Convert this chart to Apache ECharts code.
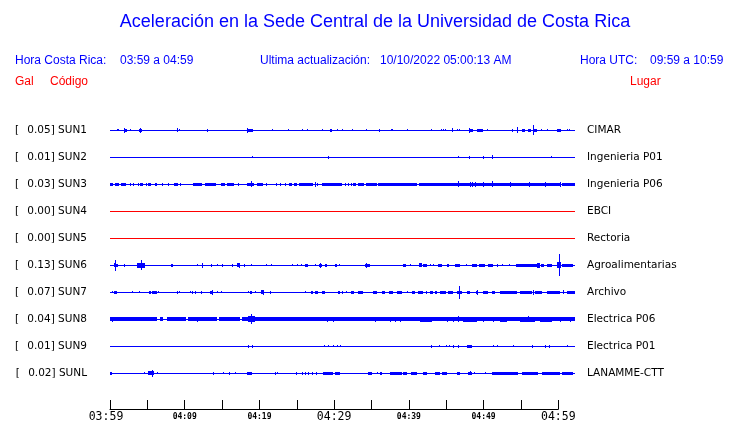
<!DOCTYPE html>
<html><head><meta charset="utf-8">
<script src="https://cdn.jsdelivr.net/npm/echarts@6/dist/echarts.min.js"></script>
<style>html,body{margin:0;padding:0;background:#fff}#c{width:740px;height:423px}</style>
</head><body><div id="c"></div>
<script>
// ---- DATA ----
const codes = ['SUN1','SUN2','SUN3','SUN4','SUN5','SUN6','SUN7','SUN8','SUN9','SUNL'];
const places = ['CIMAR','Ingenieria P01','Ingenieria P06','EBCI','Rectoria','Agroalimentarias','Archivo','Electrica P06','Electrica P01','LANAMME-CTT'];
const peakGal = [0.05,0.01,0.03,0.00,0.00,0.13,0.07,0.04,0.01,0.02];
const timeLabels = ['03:59','04:09','04:19','04:29','04:39','04:49','04:59'];
const axisStartMin = 0, axisEndMin = 60;     // minutes after 03:59 shown on the time axis
const traceStartMin = 0, traceEndMin = 62.24; // minutes covered by the traces
// events: [startMinute, endMinute, halfAmplitude]
const SUN1 = [[0.93,1.24,0.3],[1.87,2.28,0.5],[1.87,1.87,0.75],[2.7,2.7,0.3],[3.84,4.25,0.4],[4.01,4.01,0.8],[8.97,8.97,0.65],[9.23,9.23,0.25],[12.97,12.97,0.4],[18.36,19.19,0.5],[18.36,18.36,0.9],[21.68,21.68,0.35],[23.86,23.86,0.35],[25.73,25.73,0.35],[26.35,26.35,0.2],[28.42,28.42,0.35],[29.46,29.67,0.5],[30.39,30.39,0.25],[31.02,31.02,0.35],[32.36,32.36,0.2],[34.23,34.23,0.35],[35.99,35.99,0.45],[37.65,37.65,0.3],[37.76,37.76,0.3],[39.73,39.73,0.35],[42.94,42.94,0.35],[44.29,44.29,0.35],[44.6,44.6,0.35],[44.81,44.81,0.35],[45.74,45.74,0.65],[46.47,46.47,0.2],[46.68,46.68,0.2],[48.03,48.55,0.5],[48.03,48.03,0.9],[49.17,49.89,0.45],[50.41,50.41,0.35],[53.84,53.94,0.4],[54.46,54.46,1.1],[55.18,55.5,0.5],[55.91,56.33,0.5],[56.64,56.64,1.85],[56.74,57.16,0.55],[57.67,57.67,0.3],[58.5,58.5,0.2],[59.85,60.37,0.5],[61.2,61.2,0.3],[61.41,61.41,0.2]];
const SUN2 = [[18.98,18.98,0.3],[29.15,29.15,0.4],[46.57,46.57,0.3],[48.03,48.23,0.5],[49.89,49.89,0.4],[51.14,51.14,0.6],[59.02,59.02,0.3]];
const SUN3 = [[0,0.41,0.55],[0.67,1.19,0.55],[1.45,2.13,0.55],[2.7,2.7,0.4],[3.11,3.11,0.4],[3.73,3.73,0.45],[4.05,4.41,0.55],[4.82,4.82,0.4],[5.08,5.5,0.55],[6.02,6.28,0.55],[6.95,6.95,0.4],[7.78,7.78,0.4],[8.56,9.13,0.55],[9.39,9.39,0.4],[11.1,11.1,0.4],[11.25,12.34,0.55],[12.71,14.21,0.55],[14.83,15.4,0.55],[15.66,16.6,0.55],[17.12,17.12,0.4],[18.36,19.29,0.55],[18.88,18.88,1.0],[19.71,20.49,0.55],[20.85,20.85,0.4],[22.2,22.2,0.4],[22.77,22.77,0.4],[23.44,23.44,0.45],[23.96,24.38,0.55],[24.64,25.0,0.55],[25.31,27.18,0.55],[27.44,27.44,0.9],[27.7,27.85,0.55],[28.37,31.07,0.55],[31.43,31.43,0.45],[31.85,31.85,0.45],[32.26,32.26,0.45],[32.52,32.93,0.55],[33.19,34.02,0.55],[34.28,35.73,0.55],[35.89,41.08,0.55],[41.39,60.22,0.55],[60.47,62.24,0.55],[46.57,46.57,1.0],[48.18,48.18,0.8],[48.44,48.44,0.8],[48.86,48.86,0.8],[49.89,49.89,0.8],[51.14,51.14,1.0],[53.52,53.52,0.8],[56.12,56.12,0.8],[58.19,58.19,0.8],[60.22,60.22,0.8]];
const SUN4 = [];
const SUN5 = [];
const SUN6 = [[0.52,0.83,0.7],[0.67,0.67,2.0],[0.83,1.09,0.55],[1.87,1.87,0.4],[3.63,4.67,0.8],[4.1,4.1,1.85],[8.19,8.4,0.5],[11.62,11.62,0.35],[12.34,12.34,0.75],[13.48,13.48,0.5],[14.31,14.31,0.35],[14.99,14.99,0.5],[16.29,16.29,0.45],[17.01,17.43,0.6],[17.22,17.22,0.8],[17.95,17.95,0.5],[18.88,18.88,0.35],[20.85,20.85,0.3],[21.58,21.58,0.2],[24.38,24.38,0.35],[25.0,25.0,0.35],[25.52,25.52,0.35],[26.14,26.55,0.5],[27.44,27.44,0.35],[28.01,28.42,0.55],[28.11,28.11,0.8],[28.79,29.04,0.45],[30.08,30.39,0.45],[30.6,30.6,0.3],[34.13,34.75,0.55],[34.23,34.23,0.75],[39.21,39.62,0.5],[40.14,40.14,0.3],[41.39,41.8,0.6],[41.91,42.43,0.45],[42.84,42.84,0.35],[43.26,43.26,0.35],[43.88,44.4,0.45],[45.12,45.33,0.45],[46.16,46.83,0.5],[47.61,47.61,0.35],[48.44,49.12,0.45],[49.38,50.21,0.55],[50.62,51.24,0.45],[51.76,51.97,0.45],[52.49,52.49,0.3],[53.42,53.42,0.3],[54.35,57.16,0.55],[57.16,57.57,0.8],[57.67,58.09,0.5],[58.5,59.13,0.45],[59.85,60.37,1.0],[60.06,60.06,4.0],[60.47,61.93,0.5]];
const SUN7 = [[0.26,0.26,0.35],[0.52,0.93,0.55],[2.9,2.9,0.3],[3.89,3.89,0.35],[5.19,5.5,0.45],[5.6,6.28,0.5],[6.43,6.43,0.35],[8.92,8.92,0.4],[9.23,9.23,0.25],[10.68,10.68,0.3],[11.0,11.1,0.45],[11.41,11.41,0.45],[12.14,12.14,0.45],[13.38,13.8,0.45],[13.69,13.69,0.75],[14.31,14.31,0.35],[14.83,14.83,0.25],[18.46,18.46,0.35],[18.78,18.98,0.45],[19.4,19.4,0.35],[20.23,20.64,0.6],[20.43,20.43,0.8],[21.37,21.37,0.45],[26.14,26.14,0.3],[26.87,27.18,0.45],[27.44,27.85,0.45],[28.37,28.79,0.5],[30.5,30.81,0.5],[31.02,31.22,0.4],[31.53,31.53,0.35],[32.26,32.67,0.5],[33.19,33.82,0.45],[35.16,35.73,0.45],[36.41,36.82,0.45],[37.34,37.86,0.45],[38.38,39.11,0.55],[39.73,39.73,0.35],[40.45,40.82,0.45],[41.23,41.91,0.45],[42.32,42.43,0.45],[42.84,43.26,0.45],[43.46,43.77,0.45],[44.19,44.92,0.45],[45.23,45.95,0.45],[46.47,47.09,0.55],[46.68,46.68,2.4],[47.82,48.18,0.5],[48.96,49.27,0.45],[49.06,49.06,0.9],[49.89,50.62,0.45],[51.14,51.55,0.45],[52.18,54.46,0.5],[54.87,56.48,0.5],[56.64,56.64,0.8],[56.84,57.78,0.45],[58.5,60.22,0.5],[60.68,60.68,0.7],[61.2,62.24,0.5]];
const SUN8 = [[0,6.28,0.6],[6.69,7.11,0.6],[7.62,10.17,0.6],[10.42,14.31,0.6],[14.57,17.43,0.6],[17.69,62.24,0.6],[0.26,0.26,0.75],[11.62,11.62,0.8],[16.29,16.29,0.7],[18.46,19.4,0.95],[18.88,18.88,1.85],[29.04,29.04,0.85],[29.87,29.87,0.9],[35.48,35.48,0.9],[37.45,37.45,0.8],[38.17,38.17,0.8],[38.8,38.8,0.8],[41.49,43.05,0.75],[42.84,42.84,0.9],[45.12,45.12,0.8],[45.95,45.95,0.85],[46.57,46.57,1.1],[47.2,49.12,0.75],[47.51,47.51,0.9],[49.89,49.89,0.8],[51.24,51.24,0.9],[52.18,53.1,0.75],[54.87,56.84,0.8],[55.91,55.91,1.0],[57.57,59.13,0.75],[60.22,60.22,0.8],[61.56,61.56,0.8]];
const SUN9 = [[18.46,18.46,0.45],[18.98,18.98,0.4],[28.63,28.63,0.3],[29.15,29.15,0.3],[29.87,29.87,0.3],[30.39,30.39,0.3],[30.81,30.81,0.3],[42.94,42.94,0.5],[44.03,44.03,0.3],[45.02,45.02,0.3],[45.33,45.33,0.35],[45.95,45.95,0.45],[46.57,46.57,0.5],[47.77,48.44,0.5],[51.24,51.24,0.3],[51.76,51.76,0.3],[53.94,53.94,0.25],[56.48,56.48,0.4],[58.19,58.19,0.4],[58.71,58.71,0.4],[61.2,61.2,0.3]];
const SUNL = [[0,0.26,0.5],[4.56,4.56,0.35],[5.08,5.91,0.7],[5.6,5.6,1.2],[6.28,6.28,0.3],[13.8,13.8,0.45],[15.14,15.14,0.3],[15.92,15.92,0.45],[16.7,16.7,0.25],[18.36,18.98,0.5],[22.09,22.09,0.4],[22.35,22.35,0.25],[24.9,24.9,0.45],[25.73,25.73,0.45],[26.14,26.24,0.45],[26.5,26.5,0.4],[27.02,27.18,0.45],[27.59,27.59,0.4],[28.53,29.87,0.55],[30.08,30.81,0.5],[34.54,35.06,0.4],[35.73,35.73,0.35],[36.1,36.41,0.4],[37.45,39.11,0.5],[39.21,39.73,0.45],[40.3,41.08,0.5],[41.91,42.43,0.5],[43.46,44.19,0.55],[44.45,45.12,0.45],[46.47,46.83,0.5],[47.92,48.44,0.55],[48.13,48.13,0.7],[48.75,48.75,0.35],[50.21,50.21,0.3],[51.14,54.56,0.5],[55.18,57.26,0.5],[57.78,60.22,0.5],[60.47,61.98,0.5]];
const traces = [SUN1,SUN2,SUN3,SUN4,SUN5,SUN6,SUN7,SUN8,SUN9,SUNL];
const traceColors = ['#0000ff','#0000ff','#0000ff','#ff0000','#ff0000','#0000ff','#0000ff','#0000ff','#0000ff','#0000ff'];

// ---- BUILD ----
const chart = echarts.init(document.getElementById('c'), null, {renderer:'canvas'});
const ROW = 10;
const items = [];
traces.forEach((tr, r) => {
  items.push([traceStartMin, traceEndMin, 0, r]);
  tr.forEach(e => items.push([e[0], e[1], e[2], r]));
});
function renderItem(params, api) {
  const t0 = api.value(0), t1 = api.value(1), amp = api.value(2), r = api.value(3);
  const c = r * ROW + ROW / 2;
  const p0 = api.coord([t0, c - amp]);
  const p1 = api.coord([t1, c + amp]);
  const x0 = Math.round(p0[0]);
  const x1 = Math.max(Math.round(p1[0]), x0 + 1);
  const y0 = Math.round(Math.min(p0[1], p1[1]));
  const y1 = Math.round(Math.max(p0[1], p1[1]) + 0.5);
  return {type:'rect', shape:{x:x0, y:y0, width:x1-x0, height:Math.max(1,y1-y0)}, style:{fill:traceColors[r]}};
}
const blue = '#0000ff', red = '#ff0000';
const hf = 'Liberation Sans, Arial, sans-serif';
const mono = 'DejaVu Sans Mono';
chart.setOption({
  animation:false,
  grid:[
    {left:110, right:165, top:116.5, bottom:36.5},
    {left:110, right:181.7, top:300, bottom:14}
  ],
  xAxis:[
    {type:'value', gridIndex:0, min:traceStartMin, max:traceEndMin, show:false},
    {type:'value', gridIndex:1, min:axisStartMin, max:axisEndMin, interval:5,
      axisLine:{show:true, onZero:false, lineStyle:{color:'#000', width:1}},
      axisTick:{show:true, inside:true, length:9, lineStyle:{color:'#000'}},
      splitLine:{show:false},
      axisLabel:{show:true, margin:2, verticalAlign:'top', showMinLabel:true, showMaxLabel:true, hideOverlap:false,
        formatter:v=>{ if (v%10!==0) return ''; const i=v/10; if (i===0) return '{b0|'+timeLabels[i]+'}'; return (i%3===0)?'{b|'+timeLabels[i]+'}':'{s|'+timeLabels[i]+'}'; },
        rich:{
          b0:{fontFamily:mono, fontSize:11.5, color:'#000', padding:[0,8,0,0]},
          b:{fontFamily:mono, fontSize:11.5, color:'#000'},
          s:{fontFamily:mono, fontSize:8, fontWeight:'bold', color:'#000', padding:[2,0,0,0]}}}
    }
  ],
  yAxis:[
    {type:'value', gridIndex:0, min:0, max:ROW*codes.length, inverse:true, show:false},
    {type:'category', gridIndex:0, data:codes, inverse:true, position:'left', axisLine:{show:false}, axisTick:{show:false}, splitLine:{show:false},
      axisLabel:{margin:23, color:'#000', fontFamily:'DejaVu Sans', fontSize:10.5,
        formatter:(v)=>{const i=codes.indexOf(v); return '{br|[}{v|'+peakGal[i].toFixed(2)+'] '+v+'}';},
        rich:{br:{width:12.3, align:'left', fontFamily:'DejaVu Sans', fontSize:10.5, color:'#000'}, v:{fontFamily:'DejaVu Sans', fontSize:10.5, color:'#000'}}}},
    {type:'category', gridIndex:0, data:places, inverse:true, position:'right', axisLine:{show:false}, axisTick:{show:false}, splitLine:{show:false},
      axisLabel:{margin:12, color:'#000', fontFamily:'DejaVu Sans', fontSize:10.5}},
    {type:'value', gridIndex:1, show:false}
  ],
  series:[{type:'custom', renderItem, data:items, xAxisIndex:0, yAxisIndex:0, clip:false, silent:true}],
  graphic:[
    {type:'text', x:375, y:13, style:{text:'Aceleración en la Sede Central de la Universidad de Costa Rica', fill:blue, font:'18px '+hf, textAlign:'center'}},
    {type:'text', x:15, y:55, style:{text:'Hora Costa Rica:', fill:blue, font:'12px '+hf}},
    {type:'text', x:120, y:55, style:{text:'03:59 a 04:59', fill:blue, font:'12px '+hf}},
    {type:'text', x:260, y:55, style:{text:'Ultima actualización:', fill:blue, font:'12px '+hf}},
    {type:'text', x:380, y:55, style:{text:'10/10/2022 05:00:13 AM', fill:blue, font:'12px '+hf}},
    {type:'text', x:580, y:55, style:{text:'Hora UTC:', fill:blue, font:'12px '+hf}},
    {type:'text', x:650, y:55, style:{text:'09:59 a 10:59', fill:blue, font:'12px '+hf}},
    {type:'text', x:15, y:76, style:{text:'Gal', fill:red, font:'12px '+hf}},
    {type:'text', x:50, y:76, style:{text:'Código', fill:red, font:'12px '+hf}},
    {type:'text', x:630, y:76, style:{text:'Lugar', fill:red, font:'12px '+hf}}
  ]
});
</script></body></html>
